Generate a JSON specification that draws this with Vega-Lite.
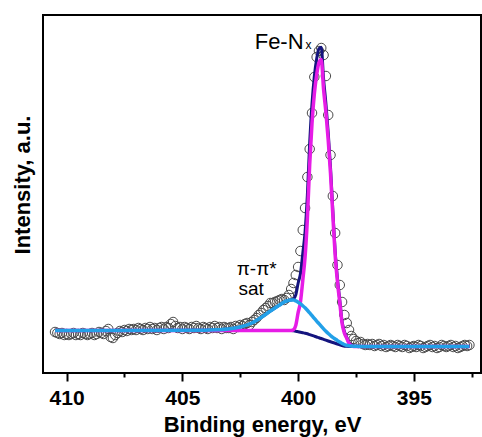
{
  "$schema": "https://vega.github.io/schema/vega-lite/v6.json",
  "width": 438,
  "height": 358,
  "autosize": {"type": "none"},
  "padding": {"left": 43, "top": 15, "right": 1, "bottom": 64},
  "background": "white",
  "config": {
    "view": {"stroke": "black", "strokeWidth": 2},
    "font": "Liberation Sans"
  },
  "datasets": {
    "pts": [
      {"e":410.5,"i":41},{"e":410.4,"i":40},{"e":410.3,"i":39},{"e":410.2,"i":40},{"e":410.1,"i":38},{"e":410.0,"i":39},{"e":409.9,"i":38},{"e":409.8,"i":39},{"e":409.7,"i":40},{"e":409.6,"i":38},
      {"e":409.5,"i":39},{"e":409.4,"i":38},{"e":409.3,"i":40},{"e":409.2,"i":39},{"e":409.1,"i":38},{"e":409.0,"i":39},{"e":408.9,"i":40},{"e":408.8,"i":38},{"e":408.7,"i":39},{"e":408.6,"i":41},
      {"e":408.5,"i":40},{"e":408.4,"i":39},{"e":408.3,"i":42},{"e":408.2,"i":44},{"e":408.1,"i":36},{"e":408.0,"i":35},{"e":407.9,"i":38},{"e":407.8,"i":40},{"e":407.7,"i":42},{"e":407.6,"i":41},
      {"e":407.5,"i":43},{"e":407.4,"i":42},{"e":407.3,"i":44},{"e":407.2,"i":43},{"e":407.1,"i":44},{"e":407.0,"i":43},{"e":406.9,"i":45},{"e":406.8,"i":44},{"e":406.7,"i":43},{"e":406.6,"i":45},
      {"e":406.5,"i":44},{"e":406.4,"i":46},{"e":406.3,"i":44},{"e":406.2,"i":45},{"e":406.1,"i":43},{"e":406.0,"i":45},{"e":405.9,"i":46},{"e":405.8,"i":44},{"e":405.7,"i":46},{"e":405.6,"i":45},
      {"e":405.5,"i":49},{"e":405.4,"i":51},{"e":405.3,"i":47},{"e":405.2,"i":45},{"e":405.1,"i":46},{"e":405.0,"i":44},{"e":404.9,"i":46},{"e":404.8,"i":45},{"e":404.7,"i":44},{"e":404.6,"i":46},
      {"e":404.5,"i":45},{"e":404.4,"i":47},{"e":404.3,"i":45},{"e":404.2,"i":44},{"e":404.1,"i":46},{"e":404.0,"i":45},{"e":403.9,"i":44},{"e":403.8,"i":46},{"e":403.7,"i":45},{"e":403.6,"i":47},
      {"e":403.5,"i":45},{"e":403.4,"i":46},{"e":403.3,"i":44},{"e":403.2,"i":46},{"e":403.1,"i":45},{"e":403.0,"i":45},{"e":402.9,"i":46},{"e":402.8,"i":44},{"e":402.7,"i":47},{"e":402.6,"i":46},
      {"e":402.5,"i":48},{"e":402.4,"i":47},{"e":402.3,"i":49},{"e":402.2,"i":50},{"e":402.1,"i":48},{"e":402.0,"i":51},{"e":401.9,"i":53},{"e":401.8,"i":55},{"e":401.7,"i":58},{"e":401.6,"i":60},
      {"e":401.5,"i":63},{"e":401.4,"i":65},{"e":401.3,"i":67},{"e":401.2,"i":70},{"e":401.1,"i":70},{"e":401.0,"i":71},{"e":400.9,"i":72},{"e":400.8,"i":73},{"e":400.7,"i":74},{"e":400.6,"i":73},
      {"e":400.5,"i":75},{"e":400.4,"i":78},{"e":400.3,"i":84},{"e":400.2,"i":90},{"e":400.1,"i":98},{"e":400.0,"i":106},{"e":399.9,"i":122},{"e":399.8,"i":143},{"e":399.7,"i":165},{"e":399.6,"i":196},
      {"e":399.5,"i":224},{"e":399.4,"i":260},{"e":399.3,"i":296},{"e":399.2,"i":316},{"e":399.1,"i":322},{"e":399.0,"i":325},{"e":398.9,"i":318},{"e":398.8,"i":297},{"e":398.7,"i":258},{"e":398.6,"i":218},
      {"e":398.5,"i":177},{"e":398.4,"i":140},{"e":398.3,"i":108},{"e":398.2,"i":88},{"e":398.1,"i":71},{"e":398.0,"i":58},{"e":397.9,"i":50},{"e":397.8,"i":43},{"e":397.7,"i":37},{"e":397.6,"i":34},
      {"e":397.5,"i":32},{"e":397.4,"i":30},{"e":397.3,"i":31},{"e":397.2,"i":29},{"e":397.1,"i":28},{"e":397.0,"i":29},{"e":396.9,"i":28},{"e":396.8,"i":29},{"e":396.7,"i":27},{"e":396.6,"i":28},
      {"e":396.5,"i":29},{"e":396.4,"i":27},{"e":396.3,"i":28},{"e":396.2,"i":26},{"e":396.1,"i":27},{"e":396.0,"i":28},{"e":395.9,"i":27},{"e":395.8,"i":26},{"e":395.7,"i":28},{"e":395.6,"i":27},
      {"e":395.5,"i":26},{"e":395.4,"i":28},{"e":395.3,"i":27},{"e":395.2,"i":25},{"e":395.1,"i":26},{"e":395.0,"i":27},{"e":394.9,"i":26},{"e":394.8,"i":28},{"e":394.7,"i":27},{"e":394.6,"i":25},
      {"e":394.5,"i":26},{"e":394.4,"i":27},{"e":394.3,"i":28},{"e":394.2,"i":26},{"e":394.1,"i":27},{"e":394.0,"i":25},{"e":393.9,"i":26},{"e":393.8,"i":28},{"e":393.7,"i":27},{"e":393.6,"i":26},
      {"e":393.5,"i":27},{"e":393.4,"i":28},{"e":393.3,"i":26},{"e":393.2,"i":27},{"e":393.1,"i":25},{"e":393.0,"i":26},{"e":392.9,"i":27},{"e":392.8,"i":28},{"e":392.7,"i":27},{"e":392.6,"i":28}
    ],
    "fit": [
      {"e":410.5,"bg":42.5,"mag":42.5,"blue":42.5,"env":42.5},
      {"e":404.0,"bg":42.5,"mag":42.5,"blue":42.8,"env":42.8},
      {"e":403.5,"bg":42.5,"mag":42.5,"blue":43.2,"env":43.2},
      {"e":403.0,"bg":42.5,"mag":42.5,"blue":44,"env":44},
      {"e":402.5,"bg":42.5,"mag":42.5,"blue":46,"env":46},
      {"e":402.0,"bg":42.5,"mag":42.5,"blue":50,"env":50},
      {"e":401.5,"bg":42.5,"mag":42.5,"blue":57,"env":57},
      {"e":401.2,"bg":42.5,"mag":42.5,"blue":62,"env":62},
      {"e":401.0,"bg":42.5,"mag":42.5,"blue":65,"env":65},
      {"e":400.8,"bg":42.5,"mag":42.5,"blue":68,"env":68},
      {"e":400.6,"bg":42.5,"mag":42.5,"blue":71,"env":71},
      {"e":400.5,"bg":42.5,"mag":42.5,"blue":72,"env":72},
      {"e":400.4,"bg":42.5,"mag":42.5,"blue":72.8,"env":72.8},
      {"e":400.3,"bg":42.5,"mag":42.5,"blue":73,"env":73},
      {"e":400.2,"bg":42.2,"mag":43.2,"blue":73,"env":74},
      {"e":400.1,"bg":41.8,"mag":47.8,"blue":72.1,"env":78.1},
      {"e":400.0,"bg":41.3,"mag":60.3,"blue":70.8,"env":89.8},
      {"e":399.9,"bg":40.8,"mag":70.8,"blue":69.2,"env":99.2},
      {"e":399.8,"bg":40.3,"mag":92.3,"blue":67.3,"env":119.3},
      {"e":399.7,"bg":39.8,"mag":115.8,"blue":65.2,"env":141.2},
      {"e":399.6,"bg":39.2,"mag":154.2,"blue":62.8,"env":177.8},
      {"e":399.5,"bg":38.4,"mag":208.4,"blue":60.1,"env":230.1},
      {"e":399.4,"bg":37.6,"mag":249.6,"blue":57.4,"env":269.4},
      {"e":399.3,"bg":36.8,"mag":278.8,"blue":54.6,"env":296.6},
      {"e":399.2,"bg":36.0,"mag":298.0,"blue":51.9,"env":313.9},
      {"e":399.1,"bg":35.3,"mag":310.3,"blue":49.3,"env":324.3},
      {"e":399.0,"bg":34.5,"mag":313.5,"blue":46.7,"env":325.7},
      {"e":398.9,"bg":33.6,"mag":283.6,"blue":44.1,"env":294.1},
      {"e":398.8,"bg":32.8,"mag":260.8,"blue":41.7,"env":269.7},
      {"e":398.7,"bg":32.0,"mag":233.0,"blue":39.5,"env":240.5},
      {"e":398.6,"bg":31.2,"mag":199.2,"blue":37.5,"env":205.5},
      {"e":398.5,"bg":30.5,"mag":157.5,"blue":35.6,"env":162.6},
      {"e":398.4,"bg":29.8,"mag":117.8,"blue":34.0,"env":122.0},
      {"e":398.3,"bg":29.0,"mag":91.0,"blue":32.4,"env":94.4},
      {"e":398.2,"bg":28.2,"mag":70.2,"blue":30.9,"env":72.9},
      {"e":398.1,"bg":27.5,"mag":49.5,"blue":29.6,"env":51.6},
      {"e":398.0,"bg":26.8,"mag":39.8,"blue":28.3,"env":41.3},
      {"e":397.9,"bg":26.7,"mag":34.7,"blue":27.7,"env":35.7},
      {"e":397.8,"bg":26.6,"mag":29.6,"blue":27.3,"env":30.3},
      {"e":397.7,"bg":26.5,"mag":27.5,"blue":27.0,"env":28.0},
      {"e":397.6,"bg":26.5,"mag":26.5,"blue":26.8,"env":26.8},
      {"e":397.5,"bg":26.5,"mag":26.5,"blue":26.7,"env":26.7},
      {"e":397.0,"bg":26.5,"mag":26.5,"blue":26.5,"env":26.5},
      {"e":392.6,"bg":26.5,"mag":26.5,"blue":26.5,"env":26.5}
    ],
    "labels": [
      {"label":"Fe-N","e":400.82,"i":323.7},
      {"label":"x","e":399.55,"i":324},
      {"label":"π-π*","e":401.79,"i":98},
      {"label":"sat","e":402.03,"i":78}
    ]
  },
  "layer": [
    {
      "data": {"name": "pts"},
      "mark": {"type": "point", "shape": "circle", "filled": false, "stroke": "#4a4a4a", "strokeWidth": 1, "size": 90, "opacity": 1},
      "encoding": {
        "x": {
          "field": "e", "type": "quantitative",
          "scale": {"domain": [392.1, 411.02], "reverse": true, "nice": false, "zero": false},
          "axis": {
            "values": [410, 407.5, 405, 402.5, 400, 397.5, 395, 392.5],
            "labelExpr": "datum.value % 5 === 0 ? datum.label : ''",
            "grid": false, "domain": false,
            "tickColor": "black", "tickWidth": 2,
            "tickSize": {"condition": {"test": "datum.value % 5 === 0", "value": 8}, "value": 4},
            "labelFont": "Liberation Sans", "labelFontWeight": "bold", "labelFontSize": 21, "labelColor": "black",
            "labelPadding": 6,
            "title": "Binding energy, eV",
            "titleFont": "Liberation Sans", "titleFontWeight": "bold", "titleFontSize": 22, "titleColor": "black",
            "titlePadding": 6
          }
        },
        "y": {
          "field": "i", "type": "quantitative",
          "scale": {"domain": [0, 358], "nice": false, "zero": false},
          "axis": {
            "labels": false, "ticks": false, "domain": false, "grid": false,
            "title": "Intensity, a.u.",
            "titleFont": "Liberation Sans", "titleFontWeight": "bold", "titleFontSize": 22, "titleColor": "black",
            "titlePadding": 9,
            "titleY": 169.5
          }
        }
      }
    },
    {
      "data": {"name": "fit"},
      "mark": {"type": "line", "color": "#14147e", "strokeWidth": 3, "interpolate": "monotone"},
      "encoding": {"x": {"field": "e", "type": "quantitative"}, "y": {"field": "bg", "type": "quantitative"}}
    },
    {
      "data": {"name": "fit"},
      "mark": {"type": "line", "color": "#14147e", "strokeWidth": 3, "interpolate": "monotone"},
      "encoding": {"x": {"field": "e", "type": "quantitative"}, "y": {"field": "env", "type": "quantitative"}}
    },
    {
      "data": {"name": "fit"},
      "mark": {"type": "line", "color": "#e61ce6", "strokeWidth": 3.5, "interpolate": "monotone"},
      "encoding": {"x": {"field": "e", "type": "quantitative"}, "y": {"field": "mag", "type": "quantitative"}}
    },
    {
      "data": {"name": "fit"},
      "mark": {"type": "line", "color": "#22a0e8", "strokeWidth": 3.5, "interpolate": "monotone"},
      "encoding": {"x": {"field": "e", "type": "quantitative"}, "y": {"field": "blue", "type": "quantitative"}}
    },
    {
      "data": {"name": "labels"},
      "transform": [{"filter": "datum.label === 'Fe-N'"}],
      "mark": {"type": "text", "font": "Liberation Sans", "fontSize": 22, "color": "black", "align": "center", "baseline": "alphabetic"},
      "encoding": {"x": {"field": "e", "type": "quantitative"}, "y": {"field": "i", "type": "quantitative"}, "text": {"field": "label"}}
    },
    {
      "data": {"name": "labels"},
      "transform": [{"filter": "datum.label === 'x'"}],
      "mark": {"type": "text", "font": "Liberation Sans", "fontSize": 12, "color": "black", "align": "center", "baseline": "alphabetic"},
      "encoding": {"x": {"field": "e", "type": "quantitative"}, "y": {"field": "i", "type": "quantitative"}, "text": {"field": "label"}}
    },
    {
      "data": {"name": "labels"},
      "transform": [{"filter": "datum.label === 'π-π*' || datum.label === 'sat'"}],
      "mark": {"type": "text", "font": "Liberation Sans", "fontSize": 19, "color": "black", "align": "center", "baseline": "alphabetic"},
      "encoding": {"x": {"field": "e", "type": "quantitative"}, "y": {"field": "i", "type": "quantitative"}, "text": {"field": "label"}}
    }
  ]
}
